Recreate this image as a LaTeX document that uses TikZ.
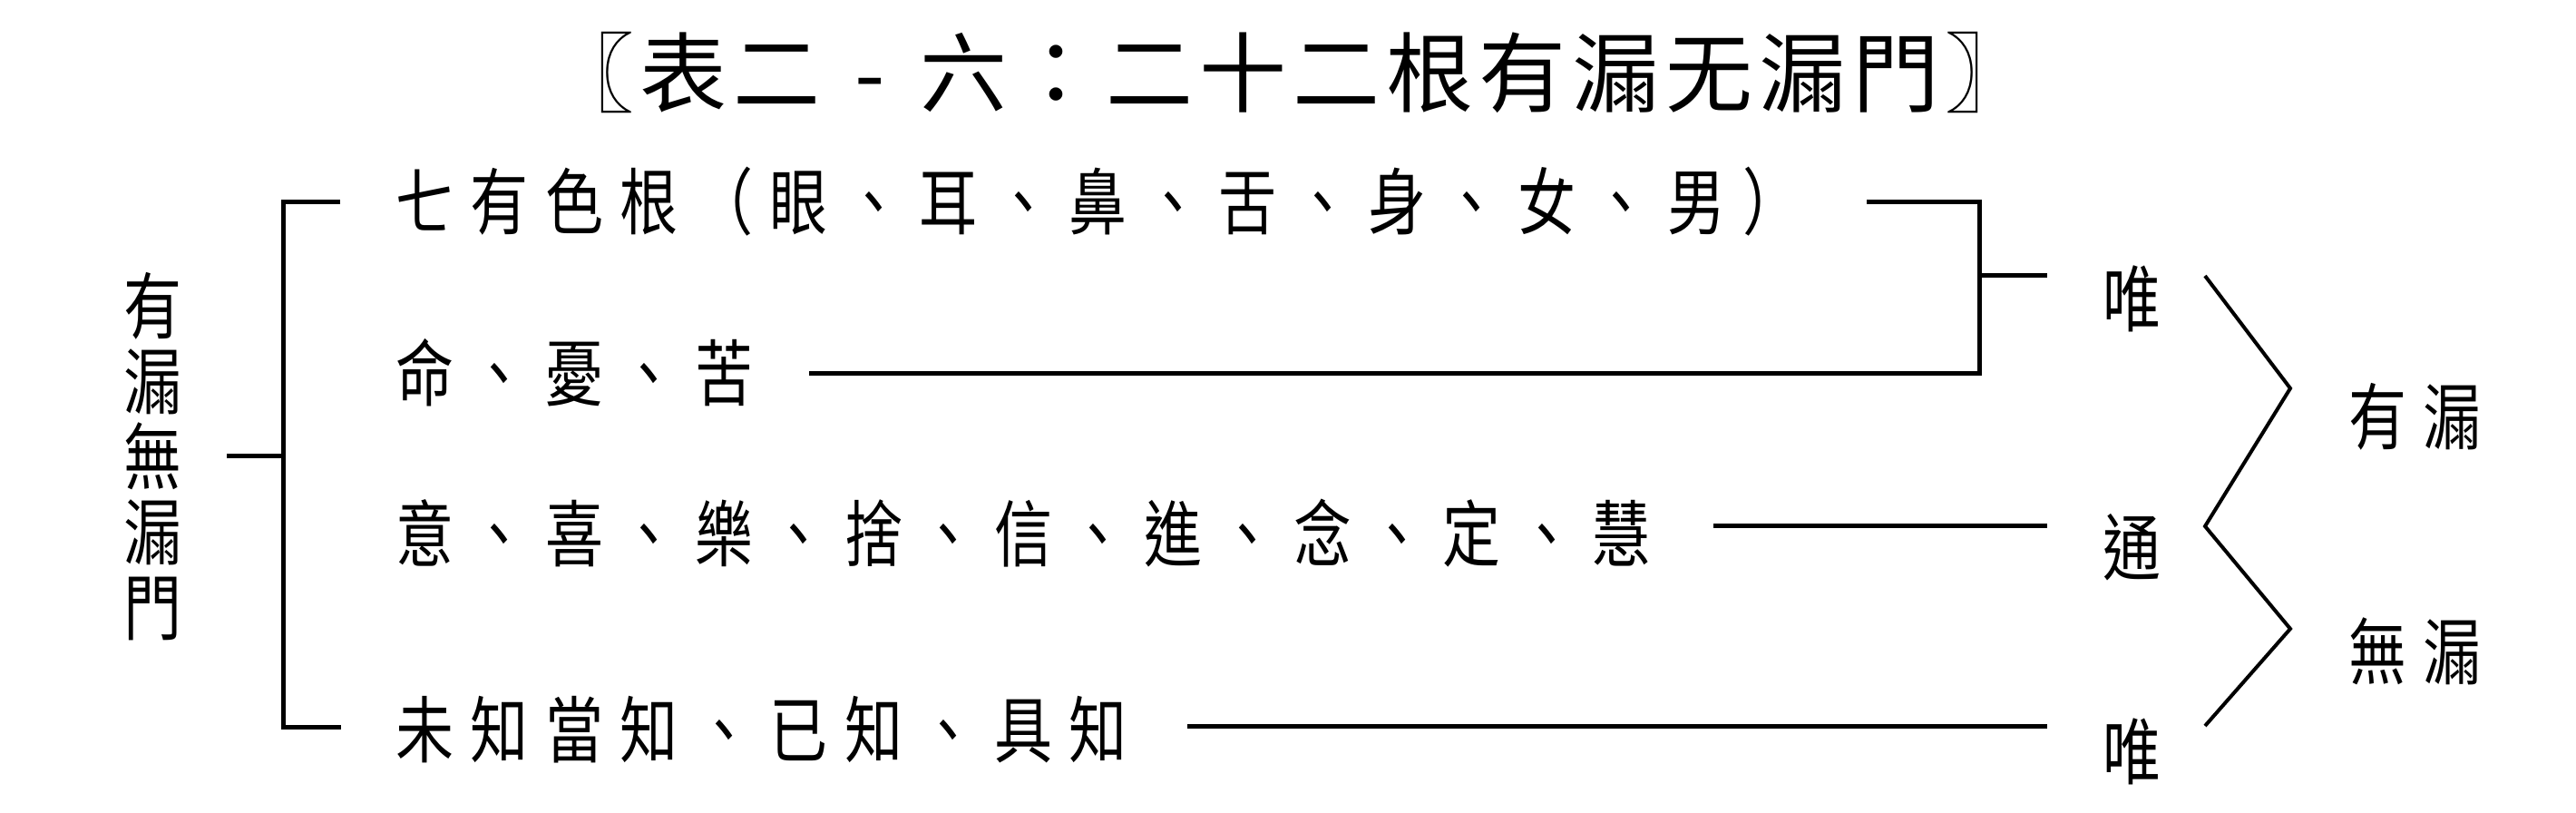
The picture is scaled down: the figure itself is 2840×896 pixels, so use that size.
\documentclass[tikz,border=0pt]{standalone}
\usepackage{fontspec}
\newfontfamily\cjk[FakeStretch=0.8]{Noto Sans CJK TC}
\newfontfamily\cjkt{Noto Sans CJK TC}
\def\sprd#1#2{\def\sprw{#1}\sprdi#2\relax}
\def\sprdi#1{\ifx#1\relax\else\makebox[\sprw]{#1}\expandafter\sprdi\fi}
\begin{document}
\begin{tikzpicture}[x=0.25pt,y=-0.25pt,
  body/.style={inner sep=0pt, font=\cjk\fontsize{20pt}{20.75pt}\selectfont, text height=17.6pt, text depth=2.4pt},
  vert/.style={inner sep=0pt, align=center, font=\cjk\fontsize{20pt}{20.75pt}\selectfont},
  ttl/.style={inner sep=0pt, font=\cjkt\fontsize{24pt}{26pt}\selectfont, text height=21.1pt, text depth=2.9pt},
  br/.style={line width=1.25pt},
  zz/.style={line width=1pt}]
\fill[white] (0,0) rectangle (2840,896);
\useasboundingbox (0,0) rectangle (2840,896);
% title
\node[ttl] (title) at (1422,80) {\sprd{25.7pt}{〖表二-六：二十二根有漏无漏門〗}};
% left vertical label
\node[vert] (left) at (169,503) {有\\漏\\無\\漏\\門};
% rows
\node[body, anchor=west] (r1) at (426,222) {\sprd{20.625pt}{七有色根（眼、耳、鼻、舌、身、女、男）}};
\node[body, anchor=west] (r2) at (426,411) {\sprd{20.625pt}{命、憂、苦}};
\node[body, anchor=west] (r3) at (426,588) {\sprd{20.625pt}{意、喜、樂、捨、信、進、念、定、慧}};
\node[body, anchor=west] (r4) at (426,804) {\sprd{20.625pt}{未知當知、已知、具知}};
% right labels
\node[body] (w1) at (2350,329) {唯};
\node[body] (tong) at (2350,603) {通};
\node[body] (w2) at (2350,828) {唯};
\node[body] (yl) at (2662,459) {\sprd{20.5pt}{有漏}};
\node[body] (wl) at (2662,718) {\sprd{20.5pt}{無漏}};
% coordinates
\coordinate (lt) at (375,223);
\coordinate (lv1) at (312,223);
\coordinate (lv2) at (312,802);
\coordinate (lb) at (376,802);
\coordinate (ls) at (250,503);
\coordinate (lsj) at (312,503);
\coordinate (rt) at (2058,223);
\coordinate (rv1) at (2182,223);
\coordinate (rv2) at (2182,412);
\coordinate (r2e) at (892,412);
\coordinate (rs1) at (2182,304);
\coordinate (rs2) at (2257,304);
\coordinate (r3a) at (1889,580);
\coordinate (r3b) at (2257,580);
\coordinate (r4a) at (1309,801);
\coordinate (r4b) at (2257,801);
\coordinate (z1) at (2431,304);
\coordinate (z2) at (2525,428);
\coordinate (z3) at (2431,580);
\coordinate (z4) at (2525,693);
\coordinate (z5) at (2431,800);
% connectors
\draw[br] (lt) -- (lv1) -- (lv2) -- (lb);
\draw[br] (ls) -- (lsj);
\draw[br] (rt) -- (rv1) -- (rv2) -- (r2e);
\draw[br] (rs1) -- (rs2);
\draw[br] (r3a) -- (r3b);
\draw[br] (r4a) -- (r4b);
\draw[zz] (z1) -- (z2) -- (z3) -- (z4) -- (z5);
\end{tikzpicture}
\end{document}
